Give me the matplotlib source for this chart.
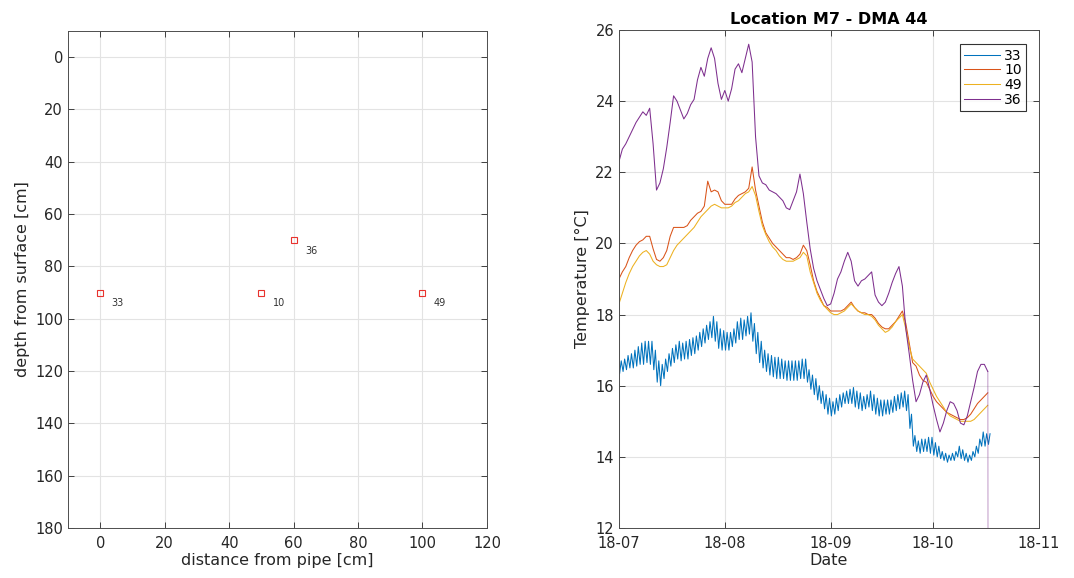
import numpy as np
import pandas as pd
import matplotlib
matplotlib.use("Agg")
import matplotlib.pyplot as plt
import matplotlib.dates as mdates

plt.rcParams['font.family'] = ['DejaVu Sans']

# ---- sensor positions (left panel)
sensor_ids = ['33', '10', '36', '49']
sensor_dist = [0, 50, 60, 100]
sensor_depth = [90, 90, 70, 90]

# ---- temperature series (right panel), one value per day from 2018-07-01
start_date = '2018-07-01'

temp_36 = [22.3, 22.65, 22.8, 23.0, 23.2, 23.4, 23.55, 23.7, 23.6, 23.8,
           22.8, 21.5, 21.7, 22.1, 22.7, 23.4, 24.15, 24.0, 23.75, 23.5,
           23.65, 23.9, 24.05, 24.6, 24.95, 24.7, 25.2, 25.5, 25.2, 24.5,
           24.05, 24.3, 24.0, 24.35, 24.9, 25.05, 24.8, 25.2, 25.6, 25.1,
           23.0, 21.9, 21.7, 21.65, 21.5, 21.45, 21.4, 21.3, 21.2, 21.0,
           20.95, 21.2, 21.45, 21.95, 21.4, 20.6, 19.85, 19.3, 18.95, 18.7,
           18.45, 18.25, 18.3, 18.6, 19.0, 19.2, 19.5, 19.75, 19.5, 18.95,
           18.8, 18.95, 19.0, 19.1, 19.2, 18.55, 18.35, 18.25, 18.35, 18.6,
           18.9, 19.15, 19.35, 18.8, 17.6, 16.9, 16.15, 15.55, 15.75, 16.1,
           16.3, 15.9, 15.45, 15.05, 14.7, 14.95, 15.3, 15.55, 15.5, 15.3,
           14.95, 14.9, 15.15, 15.55, 15.95, 16.4, 16.6, 16.6, 16.4]

temp_10 = [19.0, 19.2, 19.35, 19.6, 19.8, 19.95, 20.05, 20.1, 20.2, 20.2,
           19.85, 19.55, 19.5, 19.6, 19.8, 20.2, 20.45, 20.45, 20.45, 20.45,
           20.5, 20.65, 20.75, 20.85, 20.9, 21.05, 21.75, 21.45, 21.5, 21.45,
           21.2, 21.1, 21.1, 21.1, 21.25, 21.35, 21.4, 21.45, 21.55, 22.15,
           21.5, 21.05, 20.6, 20.3, 20.15, 20.0, 19.9, 19.8, 19.7, 19.6,
           19.6, 19.55, 19.6, 19.7, 19.95, 19.8, 19.4, 18.95, 18.65, 18.45,
           18.25, 18.2, 18.1, 18.1, 18.1, 18.1, 18.15, 18.25, 18.35, 18.2,
           18.1, 18.05, 18.05, 18.0, 18.0, 17.9, 17.75, 17.65, 17.6, 17.6,
           17.7, 17.8, 17.95, 18.1, 17.75, 17.2, 16.65, 16.55, 16.3, 16.15,
           16.1, 15.9, 15.7, 15.55, 15.45, 15.35, 15.25, 15.2, 15.15, 15.1,
           15.05, 15.05, 15.1, 15.2, 15.35, 15.5, 15.6, 15.7, 15.8]

temp_49 = [18.3, 18.6, 18.9, 19.15, 19.35, 19.5, 19.65, 19.75, 19.8, 19.7,
           19.5, 19.4, 19.35, 19.35, 19.4, 19.6, 19.8, 19.95, 20.05, 20.15,
           20.25, 20.35, 20.45, 20.6, 20.75, 20.85, 20.95, 21.05, 21.1, 21.05,
           21.0, 21.0, 21.0, 21.05, 21.15, 21.2, 21.3, 21.4, 21.45, 21.6,
           21.35, 20.9, 20.5, 20.25, 20.05, 19.9, 19.8, 19.65, 19.55, 19.5,
           19.5, 19.5, 19.55, 19.6, 19.75, 19.65, 19.2, 18.9, 18.6, 18.4,
           18.25, 18.15, 18.05, 18.0, 18.0, 18.05, 18.1, 18.2, 18.3, 18.2,
           18.1, 18.05, 18.0, 18.0, 17.95, 17.85, 17.7, 17.6, 17.5, 17.55,
           17.65, 17.8, 17.9, 18.0, 17.6, 17.1, 16.75, 16.65, 16.55, 16.45,
           16.35, 16.1, 15.9, 15.7, 15.55, 15.4, 15.25, 15.15, 15.1, 15.05,
           15.0, 15.0, 15.0, 15.0, 15.05, 15.15, 15.25, 15.35, 15.45]

# sensor 33 swings every day: daily high and low
temp_33_hi = [16.7, 16.75, 16.85, 16.9, 17.0, 17.1, 17.2, 17.25, 17.25, 17.25,
              17.0, 16.7, 16.6, 16.75, 16.9, 17.05, 17.15, 17.25, 17.2, 17.25,
              17.3, 17.35, 17.4, 17.5, 17.6, 17.7, 17.8, 17.95, 17.8, 17.6,
              17.55, 17.5, 17.5, 17.6, 17.8, 17.9, 17.85, 17.95, 18.05, 17.75,
              17.5, 17.25, 17.0, 16.9, 16.85, 16.8, 16.8, 16.75, 16.7, 16.7,
              16.7, 16.7, 16.7, 16.75, 16.75, 16.45, 16.3, 16.2, 16.0, 15.85,
              15.75, 15.65, 15.55, 15.65, 15.75, 15.8, 15.85, 15.9, 15.95, 15.85,
              15.8, 15.7, 15.75, 15.85, 15.75, 15.65, 15.6, 15.6, 15.6, 15.6,
              15.7, 15.75, 15.8, 15.85, 15.75, 15.2, 14.6, 14.45, 14.5, 14.5,
              14.55, 14.55, 14.4, 14.3, 14.15, 14.1, 14.05, 14.1, 14.15, 14.3,
              14.2, 14.1, 14.05, 14.15, 14.3, 14.5, 14.7, 14.65, 14.65]
temp_33_lo = [16.35, 16.4, 16.45, 16.5, 16.5, 16.55, 16.6, 16.6, 16.65, 16.6,
              16.45, 16.1, 16.0, 16.2, 16.4, 16.55, 16.65, 16.75, 16.7, 16.75,
              16.75, 16.85, 16.9, 17.0, 17.1, 17.2, 17.3, 17.35, 17.25, 17.05,
              17.0, 17.0, 17.0, 17.1, 17.2, 17.3, 17.3, 17.4, 17.45, 17.25,
              16.9, 16.65, 16.5, 16.4, 16.3, 16.25, 16.2, 16.2, 16.2, 16.15,
              16.15, 16.15, 16.15, 16.2, 16.2, 16.1, 15.9, 15.75, 15.6, 15.5,
              15.35, 15.2, 15.15, 15.2, 15.3, 15.4, 15.5, 15.5, 15.5, 15.4,
              15.35, 15.3, 15.35, 15.4, 15.3, 15.2, 15.15, 15.15, 15.2, 15.2,
              15.25, 15.3, 15.35, 15.4, 15.3, 14.8, 14.3, 14.15, 14.1, 14.15,
              14.15, 14.1, 14.05, 14.0, 13.95, 13.9, 13.85, 13.9, 13.9, 14.0,
              13.95, 13.9, 13.85, 13.9, 14.0, 14.1, 14.3, 14.3, 14.35]

# last logged reading of sensor 36 (logger pulled out)
last_reading_36 = 0.0

fig = plt.figure(figsize=(10.74, 5.78), dpi=100)
ax1 = fig.add_axes([0.0633, 0.0865, 0.3901, 0.8599])
ax2 = fig.add_axes([0.5763, 0.0865, 0.3911, 0.8616])

axis_col = '#262626'
grid_col = '#e3e3e3'


def style(ax):
    ax.grid(True, color=grid_col, linewidth=0.8)
    ax.set_axisbelow(True)
    ax.tick_params(direction='in', top=True, right=True, colors=axis_col,
                   labelsize=10.5, length=4, width=0.6)
    ax.tick_params(axis='x', pad=6)
    for s in ax.spines.values():
        s.set_color('#4d4d4d')
        s.set_linewidth(0.7)


# left panel
ax1.plot(sensor_dist, sensor_depth, 's', color='#e8322d', mfc='none',
         ms=4.5, mew=0.8, linestyle='none')
for sid, xd, yd in zip(sensor_ids, sensor_dist, sensor_depth):
    ax1.text(xd + 3.5, yd + 4, sid, fontsize=7, color='#333333',
             va='center', ha='left')
ax1.set_xlim(-10, 120)
ax1.set_ylim(180, -10)
ax1.set_xticks(np.arange(0, 121, 20))
ax1.set_yticks(np.arange(0, 181, 20))
ax1.set_xlabel('distance from pipe [cm]', fontsize=11.5, color=axis_col, labelpad=1)
ax1.set_ylabel('depth from surface [cm]', fontsize=11.5, color=axis_col, labelpad=4)
style(ax1)

# right panel
days = pd.date_range(start_date, periods=len(temp_36), freq='D')
t_lo = days + pd.Timedelta(hours=5)
t_hi = days + pd.Timedelta(hours=16)
t33 = np.empty(2 * len(days), dtype='datetime64[ns]')
t33[0::2] = t_lo.values
t33[1::2] = t_hi.values
v33 = np.empty(2 * len(days))
v33[0::2] = temp_33_lo
v33[1::2] = temp_33_hi

lw = 0.75
ax2.plot(t33, v33, color='#0072BD', lw=lw, label='33')
ax2.plot(days, temp_10, color='#D95319', lw=lw, label='10')
ax2.plot(days, temp_49, color='#EDB120', lw=lw, label='49')
ax2.plot(days, temp_36, color='#7E2F8E', lw=lw, label='36')
# drop at the end of the log, drawn faint like in the original export
ax2.plot([days[-1], days[-1] + pd.Timedelta(hours=6)],
         [temp_36[-1], last_reading_36], color='#7E2F8E', lw=1.0, alpha=0.35)

ax2.set_xlim(pd.Timestamp('2018-07-01'), pd.Timestamp('2018-11-01'))
ax2.set_ylim(12, 26)
ax2.set_yticks(np.arange(12, 27, 2))
ax2.xaxis.set_major_locator(mdates.MonthLocator())
ax2.xaxis.set_major_formatter(mdates.DateFormatter('%y-%m'))
ax2.set_xlabel('Date', fontsize=11.5, color=axis_col, labelpad=1)
ax2.set_ylabel('Temperature [°C]', fontsize=11.5, color=axis_col, labelpad=4)
ax2.set_title('Location M7 - DMA 44', fontsize=11.5, fontweight='bold',
              color='black', pad=4)
style(ax2)

leg = ax2.legend(loc='upper right', fontsize=10, frameon=True, fancybox=False,
                 edgecolor='black', handlelength=2.6, handletextpad=0.3,
                 borderpad=0.3, labelspacing=0.05, markerfirst=True,
                 bbox_to_anchor=(0.985, 0.985))
leg.get_frame().set_linewidth(0.8)
for txt in leg.get_texts():
    txt.set_ha('right')

fig.savefig('out.png', dpi=100)
